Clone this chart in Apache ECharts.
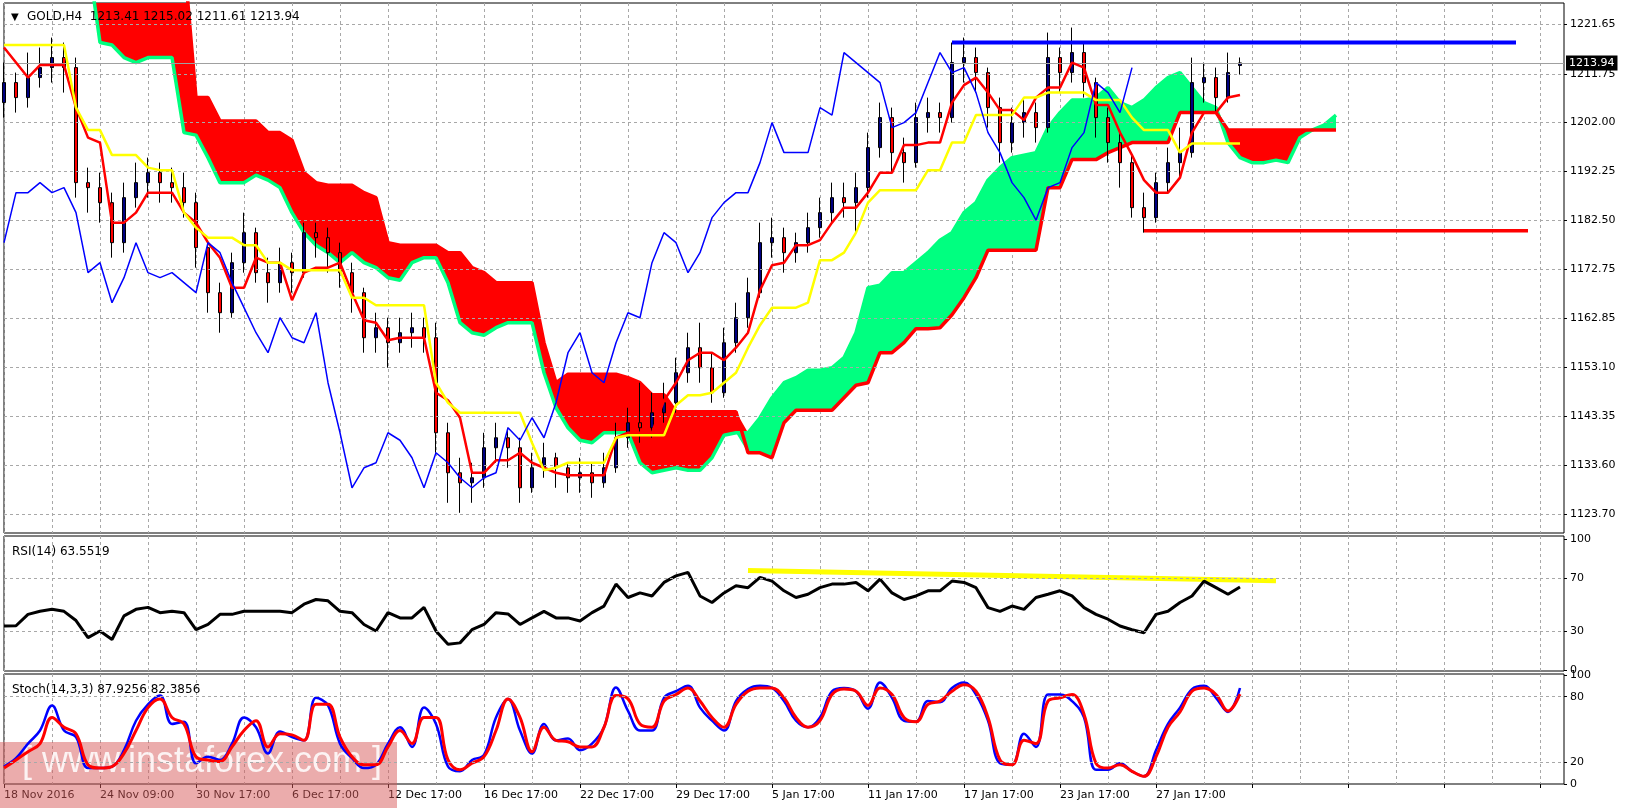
<!DOCTYPE html>
<html><head><meta charset="utf-8">
<script src="https://cdn.jsdelivr.net/npm/echarts@6/dist/echarts.min.js"></script>
<style>html,body{margin:0;padding:0;background:#fff}#c{width:1632px;height:811px}</style>
</head><body><div id="c"></div>
<script>
// ---------- DATA ----------
const slotCount = 131;
const xTickLabels = ['18 Nov 2016','24 Nov 09:00','30 Nov 17:00','6 Dec 17:00','12 Dec 17:00','16 Dec 17:00','22 Dec 17:00','29 Dec 17:00','5 Jan 17:00','11 Jan 17:00','17 Jan 17:00','23 Jan 17:00','27 Jan 17:00'];
const priceTicks = [1221.65,1211.75,1202.00,1192.25,1182.50,1172.75,1162.85,1153.10,1143.35,1133.60,1123.70];
const rsiTicks = [0,30,70,100];
const stochTicks = [0,20,80,100];
// [open, close, low, high]
const candles = [
[1206,1210,1203,1214],[1210,1207,1204,1212],[1207,1211,1205,1216],[1211,1213,1209,1217],[1213,1215,1210,1219],
[1215,1213,1208,1218],[1213,1190,1187,1215],[1190,1189,1184,1193],[1189,1186,1182,1192],[1186,1178,1175,1188],
[1178,1187,1176,1190],[1187,1190,1185,1194],[1190,1192,1187,1195],[1192,1190,1186,1194],[1190,1189,1186,1193],
[1189,1186,1183,1192],[1186,1177,1173,1188],[1177,1168,1164,1178],[1168,1164,1160,1170],[1164,1174,1163,1176],
[1174,1180,1172,1184],[1180,1172,1170,1181],[1172,1170,1166,1175],[1170,1174,1168,1177],[1174,1172,1168,1176],
[1172,1180,1171,1182],[1180,1179,1175,1182],[1179,1176,1172,1181],[1176,1172,1169,1178],[1172,1168,1164,1174],
[1168,1159,1156,1169],[1159,1161,1156,1164],[1161,1158,1153,1163],[1158,1160,1156,1163],[1160,1161,1157,1164],
[1161,1159,1156,1163],[1159,1140,1136,1162],[1140,1132,1126,1142],[1132,1130,1124,1135],[1130,1131,1126,1134],
[1131,1137,1129,1140],[1137,1139,1134,1142],[1139,1137,1133,1141],[1137,1129,1126,1139],[1129,1133,1128,1136],
[1133,1135,1131,1138],[1135,1133,1129,1136],[1133,1131,1128,1134],[1131,1132,1128,1135],[1132,1130,1127,1134],
[1130,1133,1129,1136],[1133,1139,1132,1142],[1139,1142,1137,1145],[1142,1141,1138,1150],[1141,1144,1139,1148],
[1144,1146,1142,1150],[1146,1152,1144,1155],[1152,1157,1150,1160],[1157,1153,1150,1162],[1153,1148,1146,1156],
[1148,1158,1147,1161],[1158,1163,1156,1166],[1163,1168,1161,1171],[1168,1178,1167,1182],[1178,1179,1175,1183],
[1179,1176,1172,1181],[1176,1178,1174,1180],[1178,1181,1176,1184],[1181,1184,1179,1187],[1184,1187,1182,1190],
[1187,1186,1183,1190],[1186,1189,1180,1192],[1189,1197,1187,1200],[1197,1203,1195,1206],[1203,1196,1192,1205],
[1196,1194,1190,1199],[1194,1203,1193,1206],[1203,1204,1200,1207],[1204,1203,1200,1206],[1203,1214,1202,1218],
[1214,1215,1210,1219],[1215,1212,1208,1217],[1212,1205,1201,1213],[1205,1198,1194,1207],[1198,1202,1196,1205],
[1202,1204,1199,1207],[1204,1201,1198,1206],[1201,1215,1200,1220],[1215,1212,1208,1217],[1212,1216,1210,1221],
[1216,1210,1207,1218],[1210,1203,1199,1211],[1203,1198,1194,1205],[1198,1194,1189,1200],[1194,1185,1183,1196],
[1185,1183,1180,1188],[1183,1190,1182,1192],[1190,1194,1188,1197],[1194,1196,1191,1201],[1196,1210,1195,1215],
[1210,1211,1206,1214],[1211,1207,1204,1213],[1207,1212,1206,1216],[1213.41,1213.94,1211.61,1215.02]
];
const tenkan = [1217,1214,1211,1213.5,1213.5,1213.5,1205,1199,1198,1182,1182,1184,1188,1188,1188,1184,1182,1178,1175,1169,
1169,1175,1174,1174,1166.5,1172,1173,1173,1174,1168,1162.5,1162,1158.5,1159,1159,1159,1148,1146.5,1143,1132,
1132,1134.5,1134.5,1136,1134,1133,1132,1131.5,1131.5,1131.5,1131.5,1139,1140,1140,1140,1146.5,1150,1154.5,1156,1156,
1154.5,1157,1160,1168.5,1173.5,1174,1177.5,1177.5,1178.5,1182,1185,1185,1188,1192,1192,1197.5,1197.5,1198,1198,1206,
1209.5,1211,1208,1204.5,1204.5,1202.5,1207,1209,1209,1214,1213,1205.5,1205.5,1200,1195.5,1190.5,1188,1188,1191,1200,
1204,1204,1207,1207.5];
const kijun = [1217.5,1217.5,1217.5,1217.5,1217.5,1217.5,1205,1200.5,1200.5,1195.5,1195.5,1195.5,1193,1192.5,1192.5,1184,1181,1179,1179,1179,
1177.5,1177.5,1174,1174,1172.5,1172.5,1172.5,1172.5,1172.5,1167,1167,1165.5,1165.5,1165.5,1165.5,1165.5,1150,1146,1144,1144,
1144,1144,1144,1144,1138,1132.5,1133,1134,1134,1134,1134,1139,1139.5,1139.5,1139.5,1139.5,1145.5,1147.5,1147.5,1148,
1150,1152,1157,1161.5,1165,1165,1165,1166,1174.5,1174.5,1176,1180,1186,1188.5,1188.5,1188.5,1188.5,1192.5,1192.5,1198,
1198,1203.5,1203.5,1203.5,1203.5,1207,1207,1208,1208,1208,1208,1206.5,1206.5,1206.5,1203,1200.5,1200.5,1200.5,1196,1197.8,
1197.8,1197.8,1197.8,1197.8];
const chikou = [1178,1188,1188,1190,1188,1189,1184,1172,1174,1166,1171,1178,1172,1171,1172,1170,1168,1178,1176,1170,
1165,1160,1156,1163,1159,1158,1164,1150,1140,1129,1133,1134,1140,1138.5,1135,1129,1136,1134,1131,1129,
1131,1132,1141,1138.5,1143,1139,1146,1156,1160,1152,1150,1158,1164,1163,1174,1180,1178,1172,1176,1183,
1186,1188,1188,1194,1202,1196,1196,1196,1205,1203.5,1216,1214,1212,1210,1201,1202,1204,1210,1216,1212,
1213,1208,1200,1196,1190,1187,1182.5,1189,1190,1197,1200,1210,1208,1204,1213];
const spanA = [1235,1235,1235,1235,1235,1235,1235,1235,1218,1217.5,1215,1214,1215,1215,1215,1200,1199.5,1195,1190,1190,
1190,1191.5,1190.5,1189,1184,1180,1177.5,1176,1174,1176,1174,1173,1171,1170.5,1174,1175,1175,1170,1162,1160,
1159.5,1161,1162,1162,1162,1152,1145,1141,1138.5,1138,1140,1140,1140,1134,1132,1132.5,1133,1132.5,1132.5,1135,
1139.5,1140,1140,1143,1147,1150,1151,1152.5,1152.5,1153,1155,1160,1169,1169.5,1172,1172,1174,1176,1178.5,1180,
1184,1186,1190.5,1193,1195,1195.5,1196,1201,1204,1206.5,1206.5,1207,1209,1206,1205,1206.5,1209,1211,1212,1209,
1206,1205,1198,1195,1194,1194,1194.5,1194,1199,1200.5,1201.5,1203.5];
const spanB = [1235,1235,1235,1235,1235,1235,1235,1235,1235,1235,1235,1235,1235,1235,1235,1235,1207,1207,1202.3,1202.3,
1202.3,1202.3,1200,1200,1198.5,1192,1190,1189.5,1189.5,1189.5,1188,1187,1178,1177.5,1177.5,1177.5,1177.5,1176,1176,1173,
1172,1170,1170,1170,1170,1158,1150,1151.7,1151.7,1151.7,1151.7,1151.7,1151,1150,1147.6,1147.6,1144.2,1144.2,1144.2,1144.2,
1144.2,1144.2,1136,1136,1135,1142,1144.5,1144.5,1144.5,1144.5,1147,1149.5,1150,1156,1156,1158,1160.8,1160.8,1161,1163.6,
1167,1171,1176.5,1176.5,1176.5,1176.5,1176.5,1189,1189,1194.6,1194.6,1194.6,1196,1197,1198,1198,1198,1198,1204,1204,
1204,1204,1200.5,1200.5,1200.5,1200.5,1200.5,1200.5,1200.5,1200.5,1200.5,1200.5];
const rsi = [33.8,34,42.7,45,46.5,45,38,25,30,23.6,41.5,46.5,48,44,45,44,31,35,42.7,42.7,
45,45,45,45,44,50.4,54,53,45,44,35,30,44,40,40,48,30,20,21,31,
35,44,43,35,40,45,40,40,37.6,44,49,65.7,55.5,59,56.7,67,72,74.6,56.7,51.7,
59,64.4,63,70.8,68,60.6,55.5,58,63,65.7,65.7,67,60.6,69.5,59,54,56.7,60.6,60.6,68,
67,63,47.8,45,49,46.5,55.5,58,60.6,56.7,47.8,42.7,39,33.8,31,28.7,42.7,45,51.7,56.7,
68,63,58,63.55];
const rsiTrend = {from:62, to:106, start:76, end:68.3};
const stochK = [16,23.6,37,49,72,49,43,14.6,14.6,16,31,58,73,81,55,57,19,25,22,37,
61,52,28,48,43,40,79,72,37,23.6,14.6,17.6,37,52,34,70,55,16,11.6,22,
26.6,61,78,49,28,55,40,41.7,31,37,52,88.4,67,49,49,79,85,90,70,58,
49,76,87,90,88,76,58,52,61,85,88,85,69,93,79,58,57,76,75,88,
93,82,58,19,17.6,46,34,82,82,76,61,13,13,19,11.6,7,31,55,70,87,
90,79,66,87.93];
const stochD = [14.6,22,29.6,37,61,52,46,17.6,14.6,16,28,49,70,78,61,55,25,22,20.6,34,
49,58,34,46,45,40,73,73,43,25,17.6,17.6,34,49,37,61,61,22,13,19,
25,49,78,61,29.6,52,40,38.7,34,34,52,81,78,55,52,76,82,88,76,61,
52,73,85,88,88,79,61,52,58,82,87,85,72,88,82,61,57,73,76,85,
91,85,61,22,17.6,40,37,76,79,82,64,19,14.6,17.6,11.6,7,25,52,66,85,
88,82,67,82.39];
const resistance = {from:79, to:126, value:1218.0};
const support = {from:95, to:127, value:1180.4};
const lastPrice = 1213.94;

// ---------- BUILD ----------
const categories = [];
for (let i = 0; i < slotCount; i++) categories.push(i % 8 === 0 && xTickLabels[i/8] ? xTickLabels[i/8] : '');
const cloudBase = spanA.map((a,i)=>Math.min(a,spanB[i]));
const greenBand = spanA.map((a,i)=>a>spanB[i]?a-spanB[i]:0);
const redBand = spanA.map((a,i)=>spanB[i]>a?spanB[i]-a:0);
function level(o){const arr=new Array(slotCount).fill(null);for(let i=o.from;i<=o.to;i++)arr[i]=o.value;return arr;}
const rsiTrendData = new Array(slotCount).fill(null);
rsiTrendData[rsiTrend.from]=rsiTrend.start; rsiTrendData[rsiTrend.to]=rsiTrend.end;

const FONT = 'DejaVu Sans';
const dash = {show:true, lineStyle:{color:'#a8a8a8', type:[3,3], width:1}};
function xAx(gi, showLabels){
  return {type:'category', gridIndex:gi, data:categories, boundaryGap:false,
    axisLine:{show:false}, 
    axisTick:{show:showLabels, interval:(i)=>i%8===0, length:4, lineStyle:{color:'#000'}},
    axisLabel:{show:showLabels, interval:(i)=>i%8===0, align:'left', color:'#000', fontFamily:FONT, fontSize:11, margin:6},
    splitLine:Object.assign({interval:(i)=>i%4===0},dash)};
}
function yAx(gi, min, max, ticks, fmt){
  return {type:'value', gridIndex:gi, position:'right', min:min, max:max, scale:true,
    axisLine:{show:false}, axisTick:{show:true, customValues:ticks, length:3, lineStyle:{color:'#000'}},
    axisLabel:{customValues:ticks, color:'#000', fontFamily:FONT, fontSize:11, margin:6, formatter:fmt},
    splitLine:{show:false}};
}
function hgrid(gi, ticks){
  return {type:'line', xAxisIndex:gi, yAxisIndex:gi, data:[], silent:true,
    markLine:{silent:true, symbol:'none', label:{show:false}, lineStyle:{color:'#a8a8a8', type:[3,3], width:1},
      data:ticks.map(v=>({yAxis:v}))}};
}
const chart = echarts.init(document.getElementById('c'), null, {renderer:'canvas'});
const line = (name, data, color, width, z) => ({name, type:'line', data, xAxisIndex:0, yAxisIndex:0, symbol:'none', smooth:false,
  lineStyle:{color, width}, z: z||3, silent:true});
chart.setOption({
  animation:false,
  backgroundColor:'#fff',
  grid:[
    {left:4, right:68, top:3, height:530, show:true, borderColor:'#000', borderWidth:1, backgroundColor:'#fff'},
    {left:4, right:68, top:536, height:135, show:true, borderColor:'#000', borderWidth:1},
    {left:4, right:68, top:674, height:110, show:true, borderColor:'#000', borderWidth:1}
  ],
  xAxis:[xAx(0,false), xAx(1,false), xAx(2,true)],
  yAxis:[
    yAx(0, 1119.96, 1225.91, priceTicks, v=>v.toFixed(2)),
    yAx(1, -0.4, 102.3, rsiTicks, v=>String(v)),
    yAx(2, 0, 100.8, stochTicks, v=>String(v))
  ],
  title:[
    {text:'GOLD,H4  1213.41 1215.02 1211.61 1213.94', left:22, top:6, textStyle:{fontFamily:FONT, fontSize:12, fontWeight:'normal', color:'#000'}},
    {text:'▼', left:6, top:7, textStyle:{fontFamily:FONT, fontSize:10, fontWeight:'normal', color:'#000'}},
    {text:'RSI(14) 63.5519', left:7, top:541, textStyle:{fontFamily:FONT, fontSize:12, fontWeight:'normal', color:'#000'}},
    {text:'Stoch(14,3,3) 87.9256 82.3856', left:7, top:679, textStyle:{fontFamily:FONT, fontSize:12, fontWeight:'normal', color:'#000'}}
  ],
  graphic:[
    {type:'rect', left:0, top:742, shape:{width:397, height:66}, style:{fill:'rgba(215,90,90,0.5)'}, z:1, silent:true},
    {type:'text', left:22, top:744, style:{text:'[ www.instaforex.com ]', fill:'rgba(255,255,255,0.85)', font:'36px "Liberation Sans"'}, z:2, silent:true}
  ],
  series:[
    hgrid(0, priceTicks), hgrid(1,[30,70]), hgrid(2,[20,80]),
    {name:'base', type:'line', data:cloudBase, stack:'cloud', symbol:'none', lineStyle:{width:0}, z:1, silent:true},
    {name:'green', type:'line', data:greenBand, stack:'cloud', symbol:'none', lineStyle:{width:0}, areaStyle:{color:'#00ff80', opacity:1}, z:1, silent:true},
    {name:'red', type:'line', data:redBand, stack:'cloud', symbol:'none', lineStyle:{width:0}, areaStyle:{color:'#ff0000', opacity:1}, z:1, silent:true},
    line('spanA', spanA, '#00ff7f', 3.5, 2),
    line('spanB', spanB, '#ff0000', 3.5, 2),
    {name:'price', type:'candlestick', data:candles, xAxisIndex:0, yAxisIndex:0, barWidth:4, z:4,
      itemStyle:{color:'#000080', color0:'#ff0000', borderColor:'#000', borderColor0:'#000', borderWidth:1},
      markLine:{silent:true, symbol:'none', data:[{yAxis:lastPrice}], lineStyle:{color:'#a0a0a0', type:'solid', width:1},
        label:{position:'end', formatter:'1213.94', backgroundColor:'#000', color:'#fff', fontFamily:FONT, fontSize:11, padding:[2,3], distance:2}}},
    line('tenkan', tenkan, '#ff0000', 2.5, 5),
    line('kijun', kijun, '#ffff00', 2.5, 5),
    line('chikou', chikou, '#0000ff', 1.5, 5),
    line('resistance', level(resistance), '#0000ff', 4, 6),
    line('support', level(support), '#ff0000', 3.5, 6),
    {name:'rsi', type:'line', data:rsi, xAxisIndex:1, yAxisIndex:1, symbol:'none', lineStyle:{color:'#000', width:3}, z:3},
    {name:'rsiTrend', type:'line', data:rsiTrendData, connectNulls:true, xAxisIndex:1, yAxisIndex:1, symbol:'none', lineStyle:{color:'#ffff00', width:5}, z:2},
    {name:'stochK', type:'line', data:stochK, xAxisIndex:2, yAxisIndex:2, symbol:'none', smooth:0.4, lineStyle:{color:'#0000ff', width:2.5}, z:3},
    {name:'stochD', type:'line', data:stochD, xAxisIndex:2, yAxisIndex:2, symbol:'none', smooth:0.4, lineStyle:{color:'#ff0000', width:3}, z:4}
  ]
});
</script></body></html>
